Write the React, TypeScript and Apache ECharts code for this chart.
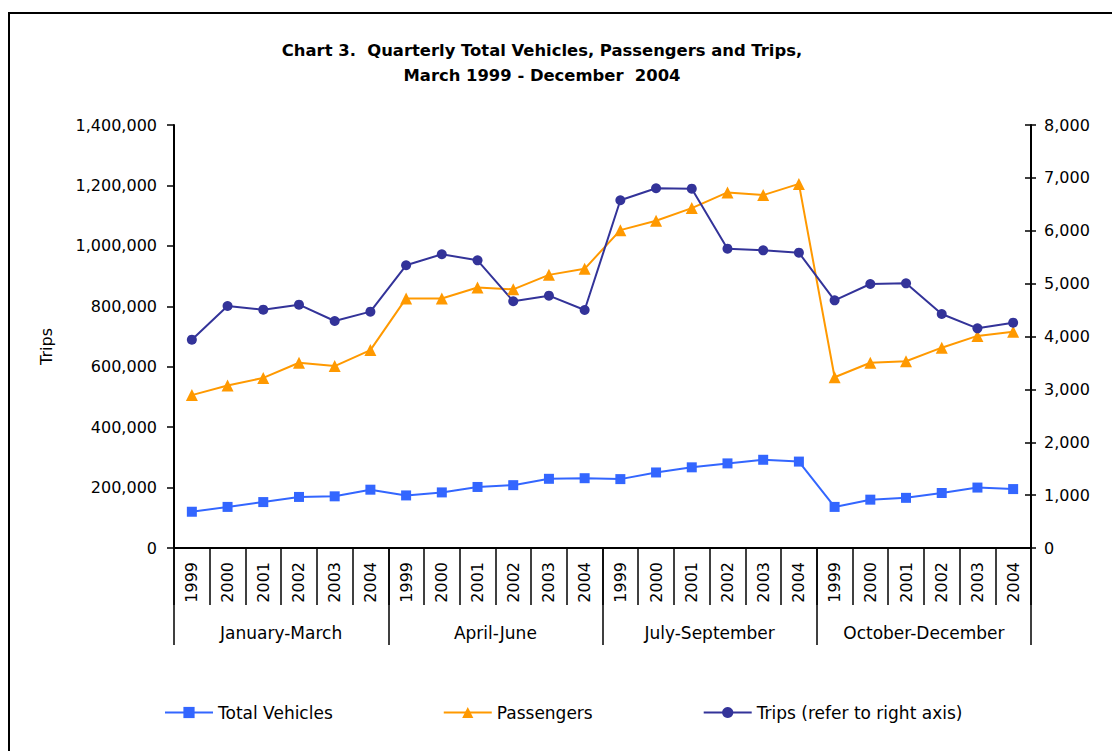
import React, { useEffect, useRef } from "react";
import * as echarts from "echarts";

const years = ["1999", "2000", "2001", "2002", "2003", "2004"];
const quarters = ["January-March", "April-June", "July-September", "October-December"];

const totalVehicles = [
  120000, 136000, 152000, 169000, 171000, 193000,
  174000, 184000, 202000, 208000, 229000, 231000,
  228000, 250000, 267000, 280000, 292000, 286000,
  136000, 160000, 166000, 182000, 200000, 195000,
];
const passengers = [
  506000, 538000, 563000, 613000, 602000, 655000,
  826000, 826000, 862000, 856000, 904000, 924000,
  1052000, 1083000, 1125000, 1177000, 1168000, 1205000,
  565000, 613000, 618000, 663000, 702000, 716000,
];
const trips = [
  3940, 4577, 4507, 4602, 4293, 4470,
  5347, 5555, 5441, 4666, 4772, 4501,
  6576, 6803, 6796, 5661, 5630, 5585,
  4684, 4993, 5006, 4426, 4155, 4262,
];

const leftTicks = { min: 0, max: 1400000, interval: 200000 };
const rightTicks = { min: 0, max: 8000, interval: 1000 };

const FONT = "DejaVu Sans";

export default function App() {
  const ref = useRef<HTMLDivElement>(null);
  useEffect(() => {
    if (!ref.current) return;
    const chart = echarts.init(ref.current, null, { renderer: "svg" });
    const categories: string[] = [];
    quarters.forEach(() => years.forEach((y) => categories.push(y)));
    const fmt = (v: number) => v.toLocaleString("en-US");
    const axisLine = { show: true, lineStyle: { color: "#000", width: 2 } };
    chart.setOption({
      animation: false,
      backgroundColor: "#fff",
      textStyle: { fontFamily: FONT, color: "#000" },
      title: {
        text: "Chart 3.  Quarterly Total Vehicles, Passengers and Trips,\nMarch 1999 - December  2004",
        left: 542,
        textAlign: "center",
        top: 38,
        padding: 0,
        textStyle: { fontFamily: FONT, fontWeight: "bold", fontSize: 16.4, lineHeight: 25, color: "#000" },
      },
      graphic: [
        {
          type: "rect",
          silent: true,
          shape: { x: 9, y: 13, width: 1130, height: 760 },
          style: { fill: "none", stroke: "#000", lineWidth: 2 },
        },
      ],
      legend: {
        left: 159,
        top: 699,
        itemWidth: 48,
        itemHeight: 14,
        itemGap: 110,
        textStyle: { fontFamily: FONT, fontSize: 17, color: "#000" },
        data: ["Total Vehicles", "Passengers", "Trips (refer to right axis)"],
      },
      grid: { left: 174, right: 81, top: 125, bottom: 203, containLabel: false },
      xAxis: [
        {
          type: "category",
          data: categories,
          boundaryGap: true,
          axisLine: axisLine,
          axisTick: { show: true, interval: 0, length: 57, lineStyle: { color: "#000", width: 1.5 } },
          axisLabel: { interval: 0, rotate: 90, margin: 14, fontSize: 16, fontFamily: FONT, color: "#000" },
          splitLine: { show: false },
        },
        {
          type: "category",
          data: quarters,
          position: "bottom",
          boundaryGap: true,
          axisLine: { show: false },
          axisTick: { show: true, interval: 0, length: 97, lineStyle: { color: "#000", width: 1.5 } },
          axisLabel: { interval: 0, margin: 76, fontSize: 17, fontFamily: FONT, color: "#000" },
          splitLine: { show: false },
        },
      ],
      yAxis: [
        {
          type: "value",
          position: "left",
          ...leftTicks,
          name: "Trips",
          nameLocation: "middle",
          nameRotate: 90,
          nameGap: 120,
          nameTextStyle: { fontFamily: FONT, fontSize: 16, color: "#000", padding: [0, 20, 0, 0] },
          axisLine: axisLine,
          axisTick: { show: true, inside: false, length: 7, lineStyle: { color: "#000", width: 1.5 } },
          axisLabel: { formatter: fmt, margin: 17, fontSize: 16, fontFamily: FONT, color: "#000" },
          splitLine: { show: false },
        },
        {
          type: "value",
          position: "right",
          ...rightTicks,
          axisLine: axisLine,
          axisTick: { show: true, inside: false, length: 5, lineStyle: { color: "#000", width: 1.5 } },
          axisLabel: { formatter: fmt, margin: 13, fontSize: 16, fontFamily: FONT, color: "#000" },
          splitLine: { show: false },
        },
        {
          type: "value",
          position: "right",
          offset: 0,
          ...rightTicks,
          axisLine: { show: false },
          axisTick: { show: true, inside: true, length: 6, lineStyle: { color: "#000", width: 1.5 } },
          axisLabel: { show: false },
          splitLine: { show: false },
        },
      ],
      series: [
        {
          name: "Total Vehicles",
          type: "line",
          xAxisIndex: 0,
          yAxisIndex: 0,
          data: totalVehicles,
          symbol: "rect",
          symbolSize: 10,
          color: "#3366FF",
          lineStyle: { color: "#3366FF", width: 2 },
          itemStyle: { color: "#3366FF" },
        },
        {
          name: "Passengers",
          type: "line",
          xAxisIndex: 0,
          yAxisIndex: 0,
          data: passengers,
          symbol: "triangle",
          symbolSize: 12,
          color: "#FF9900",
          lineStyle: { color: "#FF9900", width: 2 },
          itemStyle: { color: "#FF9900" },
        },
        {
          name: "Trips (refer to right axis)",
          type: "line",
          xAxisIndex: 0,
          yAxisIndex: 1,
          data: trips,
          symbol: "circle",
          symbolSize: 10,
          color: "#333399",
          lineStyle: { color: "#333399", width: 2 },
          itemStyle: { color: "#333399" },
        },
      ],
    });
    return () => chart.dispose();
  }, []);
  return (
    <div
      ref={ref}
      style={{ position: "absolute", left: 0, top: 0, width: 1112, height: 751, background: "#fff" }}
    />
  );
}
